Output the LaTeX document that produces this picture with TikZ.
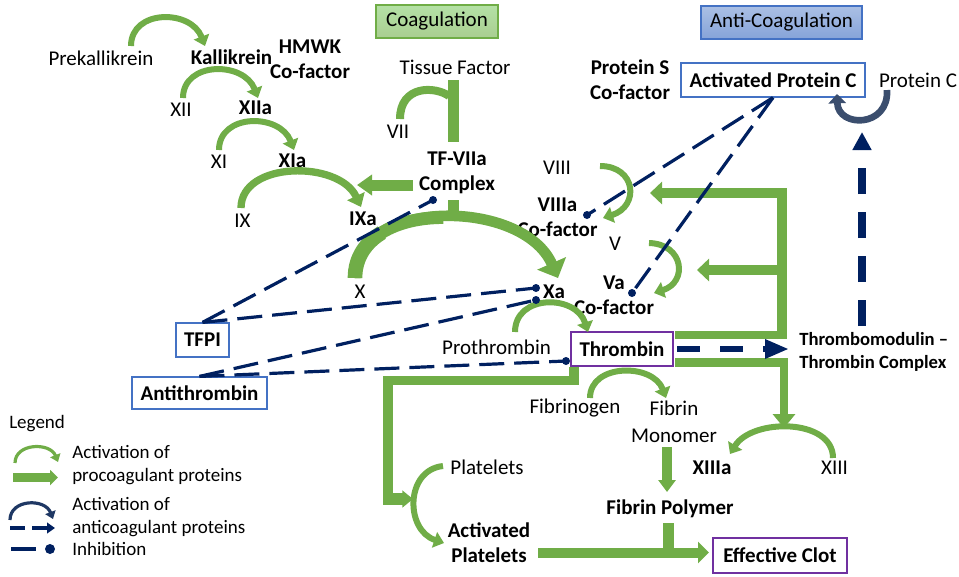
\documentclass[tikz,border=0pt]{standalone}
\usepackage{fontspec}
\setmainfont{Carlito}
\usetikzlibrary{arrows.meta}
\definecolor{gr}{HTML}{70AD47}
\definecolor{navy}{HTML}{002060}
\definecolor{boxb}{HTML}{4472C4}
\definecolor{pur}{HTML}{7030A0}
\definecolor{slate}{HTML}{3B4E6E}
\definecolor{legb}{HTML}{1F3864}
\begin{document}
\begin{tikzpicture}[x=0.75pt,y=-0.75pt,
  txt/.style={font=\fontsize{15.75pt}{18.75pt}\selectfont, inner sep=0pt, align=center},
  btxt/.style={txt, font=\fontsize{15.75pt}{18.75pt}\selectfont\bfseries},
  stxt/.style={inner sep=0pt, font=\fontsize{14pt}{17.25pt}\selectfont\bfseries},
  ltxt/.style={inner sep=0pt, font=\fontsize{14.25pt}{17.25pt}\selectfont},
  blubox/.style={btxt, draw=boxb, line width=0.9pt, fill=white},
  purbox/.style={btxt, draw=pur, line width=1.9pt, fill=white},
  carr/.style={draw=gr, line width=4.5pt, line cap=butt, -{Triangle[width=12pt,length=7.5pt]}},
  barrow/.style={draw=gr, line cap=butt},
  gbar/.style={draw=gr, line cap=butt, line join=miter},
  inh/.style={draw=navy, line width=2.4pt, dash pattern=on 18.75pt off 7.5pt},
  dot/.style={circle, fill=navy, inner sep=0pt, minimum size=6pt},
  thickdash/.style={draw=navy, line cap=butt}
]
\useasboundingbox (0,0) rectangle (959,576);

% ---------- titles ----------
\node[txt, draw=gr, line width=1pt, top color=green!20!gr!45, bottom color=gr!60,
      minimum width=91.5pt, minimum height=24.75pt] (coag) at (437,21.5) {Coagulation};
\node[txt, draw=boxb, line width=1pt, top color=boxb!45, bottom color=boxb!65,
      minimum width=120.75pt, minimum height=24.75pt] (anti) at (781.5,22.5) {Anti-Coagulation};

% ---------- text nodes ----------
\node[txt] (prek) at (101,58) {Prekallikrein};
\node[btxt] (kall) at (231.5,57) {Kallikrein};
\node[btxt] (hmwk) at (310,59.5) {HMWK\\Co-factor};
\node[txt] (xii) at (181,110) {XII};
\node[btxt] (xiia) at (255.5,108) {XIIa};
\node[txt] (xi) at (219,162) {XI};
\node[btxt] (xia) at (292.5,161) {XIa};
\node[txt] (ix) at (242.5,221) {IX};
\node[btxt] (ixa) at (363,219) {IXa};
\node[txt] (tf) at (455,67) {Tissue Factor};
\node[txt] (vii) at (398,132) {VII};
\node[btxt] (tfvii) at (457,172.5) {TF-VIIa\\Complex};
\node[txt] (x) at (360,292) {X};
\node[btxt] (xa) at (554,292) {Xa};
\node[btxt] (ps) at (630,79.5) {Protein S\\Co-factor};
\node[blubox, minimum width=138pt, minimum height=25.5pt] (apc) at (773,80) {Activated Protein C};
\node[txt] (pc) at (918,80) {Protein C};
\node[txt] (viii) at (557,168) {VIII};
\node[btxt] (viiia) at (557.5,217.5) {VIIIa\\Co-factor};
\node[txt] (v) at (615,244) {V};
\node[btxt] (va) at (614,295.5) {Va\\Co-factor};
\node[blubox, minimum width=39.75pt, minimum height=25.5pt] (tfpi) at (202.5,340) {TFPI};
\node[blubox, minimum width=101.25pt, minimum height=24pt] (at) at (199.5,393) {Antithrombin};
\node[txt] (proth) at (496.5,347) {Prothrombin};
\node[purbox, minimum width=76.5pt, minimum height=25.5pt] (thr) at (622,349) {Thrombin};
\node[stxt, align=left, anchor=west] (tmc) at (799,351.5) {Thrombomodulin --\\Thrombin Complex};
\node[txt] (fgen) at (575,408) {Fibrinogen};
\node[txt] (fmon) at (674,421.5) {Fibrin\\[1.5pt]Monomer};
\node[btxt] (xiiia) at (712,468) {XIIIa};
\node[txt] (xiii) at (834.5,468) {XIII};
\node[btxt] (fpol) at (670,509) {Fibrin Polymer};
\node[purbox, minimum width=100.5pt, minimum height=26.25pt] (clot) at (780,555.5) {Effective Clot};
\node[txt] (plt) at (487,467) {Platelets};
\node[btxt] (aplt) at (489,543) {Activated\\Platelets};

% legend texts
\node[ltxt, anchor=west] (leg) at (9,424) {Legend};
\node[ltxt, anchor=west, align=left] (l1) at (72,465.5) {Activation of\\procoagulant proteins};
\node[ltxt, anchor=west, align=left] (l2) at (72,517.5) {Activation of\\anticoagulant proteins};
\node[ltxt, anchor=west] (l3) at (72,549) {Inhibition};

% ---------- coordinates ----------
\coordinate (a1s) at (131,46);  \coordinate (a1e) at (205,46);
\coordinate (a2s) at (183,98);  \coordinate (a2e) at (258,98);
\coordinate (a3s) at (219,150); \coordinate (a3e) at (294,150);
\coordinate (a4s) at (241,208); \coordinate (a4e) at (361,207);
\coordinate (a5s) at (355,278); \coordinate (a5e) at (558,278);
\coordinate (a5q) at (381.8,232.6); \coordinate (a5h) at (443.4,217.6);
\coordinate (a6s) at (515,332); \coordinate (a6e) at (588,332);
\coordinate (a7s) at (590,398); \coordinate (a7e) at (666,398);
\coordinate (a8s) at (833,458); \coordinate (a8e) at (730,454);
\coordinate (a9s) at (400,119); \coordinate (a9e) at (449,96);
\coordinate (a10s) at (600,166); \coordinate (a10e) at (603,218);
\coordinate (a11s) at (649,243); \coordinate (a11e) at (654,293);
\coordinate (a12s) at (443,466); \coordinate (a12e) at (444,543);
\coordinate (pcs) at (887,90); \coordinate (pce) at (837,94);

% ---------- green curved arrows ----------
\draw[carr] (a1s) .. controls +(0,-37) and +(-14,-37) .. (a1e);
\draw[carr] (a2s) .. controls +(0,-37) and +(-14,-37) .. (a2e);
\draw[carr] (a3s) .. controls +(0,-37) and +(-14,-37) .. (a3e);
\draw[carr, line width=5.5pt, -{Triangle[width=14pt,length=9pt]}] (a4s) .. controls +(0,-47) and +(-22,-47) .. (a4e);
\draw[carr, line width=8pt, -{Triangle[width=23pt,length=12pt]}] (a5s) .. controls +(0,-81) and +(-35,-80) .. (a5e);
\draw[draw=gr, line width=9.5pt] (a5s) .. controls (355,237.5) and (397,217.5) .. (a5h);
\draw[draw=gr, line width=11pt] (a5s) .. controls (355,257.75) and (365.5,242.6) .. (a5q);
\draw[carr] (a6s) .. controls +(0,-38) and +(-12,-38) .. (a6e);
\draw[carr] (a7s) .. controls +(0,-35) and +(-13,-35) .. (a7e);
\draw[carr] (a8s) .. controls +(0,-40) and +(22,-36) .. (a8e);
\draw[draw=gr, line width=6pt] (a9s) .. controls (400,85) and (435,86) .. (a9e);
\draw[carr] (a10s) .. controls (636,166) and (640,206) .. (a10e);
\draw[carr] (a11s) .. controls (684,244) and (688,282) .. (a11e);
\draw[carr] (a12s) .. controls (405,470) and (405,530) .. (a12e);

% Protein C -> APC
\draw[draw=slate, line width=5pt, line cap=butt, -{Triangle[width=13pt,length=7pt]}] (pcs) .. controls (889,128) and (838,128) .. (pce);

% ---------- green block arrows and bars ----------
\coordinate (tfb1) at (453.5,80);  \coordinate (tfb2) at (453.5,142);
\draw[gbar, line width=8.25pt] (tfb1) -- (tfb2);
\coordinate (tfl1) at (413,185); \coordinate (tfl2) at (357,185);
\draw[barrow, line width=8.25pt, -{Triangle[width=15pt,length=11.25pt]}] (tfl1) -- (tfl2);
\coordinate (tfd1) at (453.5,200); \coordinate (tfd2) at (453.5,216);
\draw[gbar, line width=8.25pt] (tfd1) -- (tfd2);

% thrombin feedback (top right)
\coordinate (fb0) at (675,335); \coordinate (fb1) at (787,335);
\draw[gbar, line width=6pt] (fb0) -- (fb1);
\coordinate (fv1) at (782,339); \coordinate (fv2) at (782,188);
\draw[gbar, line width=7.5pt] (fv1) -- (fv2);
\coordinate (ft1) at (787,193); \coordinate (ft2) at (650,193);
\draw[barrow, line width=7.5pt, -{Triangle[width=16.5pt,length=9pt]}] (ft1) -- (ft2);
\coordinate (fm1) at (779,270); \coordinate (fm2) at (697,270);
\draw[barrow, line width=7.5pt, -{Triangle[width=16.5pt,length=9pt]}] (fm1) -- (fm2);

% thrombin -> XIII
\coordinate (fr0) at (675,362.5); \coordinate (fr1) at (788,362.5);
\draw[gbar, line width=6.75pt] (fr0) -- (fr1);
\coordinate (fd1) at (784,358); \coordinate (fd2) at (784,428);
\draw[barrow, line width=6pt, -{Triangle[width=16.5pt,length=10.5pt]}] (fd1) -- (fd2);

% thrombin -> platelets
\coordinate (pl0) at (574,367); \coordinate (pl1) at (574,380.5);
\coordinate (pl2) at (388,380.5); \coordinate (pl3) at (388,505);
\draw[gbar, line width=7pt] (pl0) -- (pl1) -- (pl2) -- (pl3);
\coordinate (pa1) at (391,499); \coordinate (pa2) at (413,499);
\draw[barrow, line width=8.5pt, -{Triangle[width=12.5pt,length=8pt]}] (pa1) -- (pa2);

% fibrin monomer -> polymer
\coordinate (fp1) at (667,447); \coordinate (fp2) at (667,492);
\draw[barrow, line width=7.5pt, -{Triangle[width=12.75pt,length=9pt]}] (fp1) -- (fp2);
\coordinate (fq1) at (668,523); \coordinate (fq2) at (668,552);
\draw[gbar, line width=8.25pt] (fq1) -- (fq2);

% activated platelets -> clot
\coordinate (ac1) at (538,552.5); \coordinate (ac2) at (709,552.5);
\draw[barrow, line width=7.5pt, -{Triangle[width=15.75pt,length=8.25pt]}] (ac1) -- (ac2);

% ---------- thick dashed activation arrows ----------
\coordinate (td1) at (677,349); \coordinate (td2) at (789,349);
\draw[thickdash, line width=4.8pt, dash pattern=on 17.25pt off 15pt, -{Triangle[width=13.5pt,length=18pt]}] (td1) -- (td2);
\coordinate (tu1) at (862,326); \coordinate (tu2) at (862,132);
\draw[thickdash, line width=5.6pt, dash pattern=on 19.5pt off 13.5pt, -{Triangle[width=13.5pt,length=13.5pt]}] (tu1) -- (tu2);

% ---------- inhibition ----------
\node[dot] (d1) at (433,200) {};
\node[dot] (d2) at (536,288) {};
\node[dot] (d3) at (536,300) {};
\node[dot] (d4) at (566,361) {};
\node[dot] (d5) at (587,215) {};
\node[dot] (d6) at (632,293) {};
\draw[inh] (tfpi.north) -- (d1.center);
\draw[inh] (tfpi.north) -- (d2.center);
\draw[inh] (at.north) -- (d3.center);
\draw[inh] (at.north) -- (d4.center);
\draw[inh] (apc.south) -- (d5.center);
\draw[inh] (apc.south) -- (d6.center);

% ---------- legend symbols ----------
\coordinate (lg1s) at (15,463); \coordinate (lg1e) at (58,462);
\draw[draw=gr, line width=2.4pt, line cap=butt, -{Triangle[width=8pt,length=5.5pt]}] (lg1s) .. controls +(0,-20) and +(-8,-20) .. (lg1e);
\coordinate (lg2s) at (13,477.5); \coordinate (lg2e) at (58,477.5);
\draw[barrow, line width=6.75pt, -{Triangle[width=11.25pt,length=6pt]}] (lg2s) -- (lg2e);
\coordinate (lg3s) at (10,520); \coordinate (lg3e) at (53,519);
\draw[draw=legb, line width=2.4pt, line cap=butt, -{Triangle[width=8pt,length=5.5pt]}] (lg3s) .. controls +(0,-21) and +(-8,-21) .. (lg3e);
\coordinate (lg4s) at (10,528); \coordinate (lg4e) at (55,528);
\draw[draw=navy, line width=3pt, dash pattern=on 11.25pt off 5.25pt, -{Triangle[width=8pt,length=6pt]}] (lg4s) -- (lg4e);
\node[dot, minimum size=7.5pt] (lgd) at (50,549) {};
\coordinate (lg5s) at (11,549); \coordinate (lg5e) at (36,549);
\draw[draw=navy, line width=3pt] (lg5s) -- (lg5e);
\end{tikzpicture}
\end{document}
